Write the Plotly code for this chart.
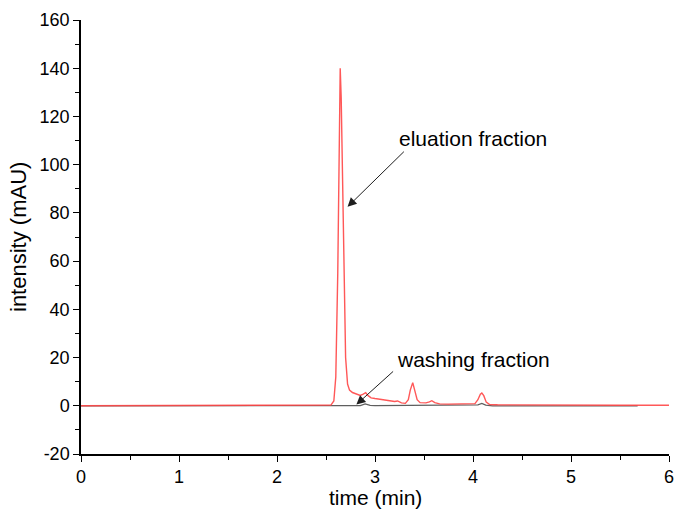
import plotly.graph_objects as go

# Elution fraction chromatogram (red)
elution_time = [0.0, 0.5, 1.0, 1.5, 2.0, 2.3, 2.5, 2.55, 2.58, 2.60, 2.62, 2.635, 2.645, 2.655,
                2.67, 2.685, 2.70, 2.72, 2.74, 2.77, 2.80, 2.85, 2.88, 2.905, 2.93, 2.96, 3.00,
                3.05, 3.10, 3.15, 3.20, 3.23, 3.27, 3.31, 3.34, 3.36, 3.385, 3.41, 3.43, 3.46,
                3.52, 3.555, 3.58, 3.61, 3.66, 3.75, 3.85, 3.95, 4.02, 4.05, 4.075, 4.09, 4.11,
                4.135, 4.17, 4.25, 4.5, 5.0, 5.5, 6.0]
elution_mau = [0.0, 0.0, 0.0, 0.0, 0.0, 0.0, 0.0, 0.3, 2.0, 12.0, 55.0, 115.0, 140.0, 128.0,
               85.0, 45.0, 20.0, 9.0, 6.5, 5.5, 5.0, 4.3, 4.8, 5.4, 4.2, 3.3, 3.0,
               2.6, 2.3, 2.1, 1.8, 2.0, 1.2, 1.0, 2.5, 6.5, 9.6, 6.0, 2.5, 1.3,
               1.2, 1.6, 2.1, 1.3, 0.8, 0.7, 0.8, 0.9, 0.9, 2.5, 4.8, 5.3, 4.2,
               1.5, 0.5, 0.4, 0.3, 0.3, 0.2, 0.2]

# Washing fraction chromatogram (grey)
washing_time = [0.0, 1.0, 2.0, 2.5, 2.85, 2.9, 2.95, 3.0, 3.5, 4.0, 4.05, 4.09, 4.13, 4.2, 5.0, 5.68]
washing_mau = [0.0, 0.0, 0.0, 0.0, 0.1, 0.8, 0.2, 0.1, 0.1, 0.1, 0.4, 1.0, 0.3, 0.0, 0.0, 0.0]

x_ticks = [0, 1, 2, 3, 4, 5, 6]
y_ticks = [-20, 0, 20, 40, 60, 80, 100, 120, 140, 160]

FONT = "Liberation Sans, Arial, sans-serif"

fig = go.Figure()
fig.add_trace(go.Scatter(x=washing_time, y=washing_mau, mode="lines",
                         line=dict(color="rgb(95,95,95)", width=1.3), showlegend=False))
fig.add_trace(go.Scatter(x=elution_time, y=elution_mau, mode="lines",
                         line=dict(color="rgb(255,70,70)", width=1.4), opacity=0.9,
                         showlegend=False))

fig.add_annotation(x=2.72, y=82.5, ax=3.31, ay=106, xref="x", yref="y", axref="x", ayref="y",
                   text="", showarrow=True, arrowhead=2, arrowsize=1.8, arrowwidth=1,
                   arrowcolor="rgb(30,30,30)")
fig.add_annotation(x=4.0, y=111, text="eluation fraction", showarrow=False,
                   font=dict(family=FONT, size=21, color="black"))
fig.add_annotation(x=2.81, y=0.5, ax=3.2, ay=14.8, xref="x", yref="y", axref="x", ayref="y",
                   text="", showarrow=True, arrowhead=2, arrowsize=1.8, arrowwidth=1,
                   arrowcolor="rgb(30,30,30)")
fig.add_annotation(x=4.01, y=19, text="washing fraction", showarrow=False,
                   font=dict(family=FONT, size=21, color="black"))

# Axis titles as paper-positioned text
fig.add_annotation(x=0.5, y=0, xref="paper", yref="paper", yshift=-30, yanchor="top",
                   text="time (min)", showarrow=False,
                   font=dict(family=FONT, size=21, color="black"))
fig.add_annotation(x=0, y=0.5, xref="paper", yref="paper", xshift=-63, xanchor="center",
                   text="intensity (mAU)", showarrow=False, textangle=-90,
                   font=dict(family=FONT, size=22, color="black"))

axis_common = dict(showgrid=False, zeroline=False, showline=True, linecolor="black",
                   linewidth=1.5, ticks="outside", tickcolor="black", tickwidth=1.3,
                   ticklen=6, automargin=False, ticklabeloverflow="allow",
                   tickfont=dict(family=FONT, size=18, color="black"))

fig.update_xaxes(range=[0, 6], tickvals=x_ticks, ticktext=[str(v) for v in x_ticks],
                 minor=dict(dtick=0.5, ticks="outside", ticklen=4, tickcolor="black", tickwidth=1.3),
                 **axis_common)
fig.update_yaxes(range=[-20, 160], tickvals=y_ticks, ticktext=[str(v) for v in y_ticks],
                 minor=dict(dtick=10, ticks="outside", ticklen=4, tickcolor="black", tickwidth=1.3),
                 **axis_common)

fig.update_layout(width=675, height=516, margin=dict(l=81, r=6, t=20, b=62),
                  plot_bgcolor="white", paper_bgcolor="white",
                  font=dict(family=FONT, color="black"))

fig.write_html("out.html", config={"displayModeBar": False},
               post_script="document.body.style.margin='0';")
